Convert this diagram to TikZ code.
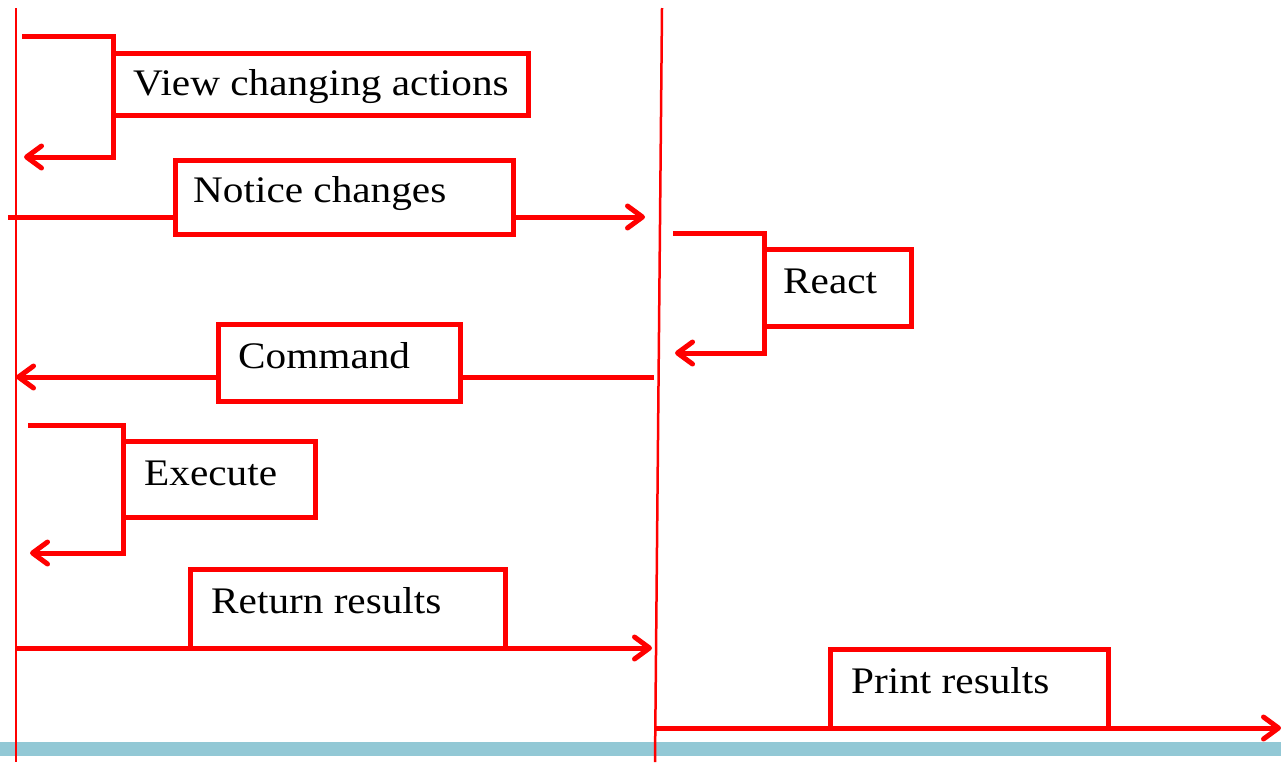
\documentclass[tikz,border=0pt]{standalone}
\usepackage{fontspec}
\setmainfont{Liberation Serif}[FakeStretch=1.1]
\usetikzlibrary{arrows.meta}
\definecolor{lred}{RGB}{255,0,0}
\definecolor{barblue}{RGB}{146,200,213}
\tikzset{
  life/.style={draw=lred, line width=2.5pt},
  conn/.style={draw=lred, line width=5pt},
  arr/.style={draw=lred, line width=5pt, -{Straight Barb[length=15pt,width=22pt,round]}},
  box/.style={draw=lred, fill=white, line width=5pt, inner sep=0pt, outer sep=0pt, anchor=north west},
  txt/.style={font=\fontsize{37.5}{40}\selectfont, text=black, inner sep=0pt, anchor=base west}
}
\begin{document}
\begin{tikzpicture}[x=1pt,y=-1pt]
\useasboundingbox (0,0) rectangle (1281,772);
\fill[barblue] (0,742) rectangle (1281,756);
% lifelines
\coordinate (l1t) at (16,8);
\coordinate (l1b) at (16,762);
\coordinate (l2t) at (662,8);
\coordinate (l2b) at (655,762);
\draw[life] (l1t) -- (l1b);
\draw[life] (l2t) -- (l2b);
% boxes
\node[box, minimum width=415pt, minimum height=62pt] (v) at (113,53) {};
\node[box, minimum width=338pt, minimum height=74pt] (n) at (175,160) {};
\node[box, minimum width=147pt, minimum height=77pt] (r) at (764,249) {};
\node[box, minimum width=242pt, minimum height=77pt] (c) at (218,324) {};
\node[box, minimum width=192pt, minimum height=76pt] (e) at (123,441) {};
\node[box, minimum width=315pt, minimum height=79pt] (rr) at (190,569) {};
\node[box, minimum width=278pt, minimum height=79pt] (p) at (830,649) {};
% texts
\node[txt] (tv) at (133,95) {View changing actions};
\node[txt] (tn) at (193,202) {Notice changes};
\node[txt] (tr) at (783,293) {React};
\node[txt] (tc) at (238,368) {Command};
\node[txt] (te) at (144,485) {Execute};
\node[txt] (trr) at (211,613) {Return results};
\node[txt] (tp) at (851,693) {Print results};
% self loop: view changing actions
\coordinate (vs) at (22,36);
\coordinate (ve) at (24,157);
\draw[arr] (vs) -| (v.west) |- (ve);
% notice changes
\coordinate (ns) at (8,217);
\coordinate (ne) at (645,217);
\draw[conn] (ns) -- (ns -| n.west);
\draw[arr] (ns -| n.east) -- (ne);
% react
\coordinate (rs) at (673,233);
\coordinate (re) at (675,353);
\draw[arr] (rs) -| (r.west) |- (re);
% command
\coordinate (cs) at (654,377);
\coordinate (ce) at (16,377);
\draw[conn] (cs) -- (cs -| c.east);
\draw[arr] (cs -| c.west) -- (ce);
% execute
\coordinate (es) at (28,425);
\coordinate (ee) at (30,553);
\draw[arr] (es) -| (e.west) |- (ee);
% return results
\coordinate (rrs) at (16,648);
\coordinate (rre) at (652,648);
\draw[arr] (rrs) -- (rre);
% print results
\coordinate (ps) at (656,728);
\coordinate (pe) at (1281,728);
\draw[arr] (ps) -- (pe);
\end{tikzpicture}
\end{document}
